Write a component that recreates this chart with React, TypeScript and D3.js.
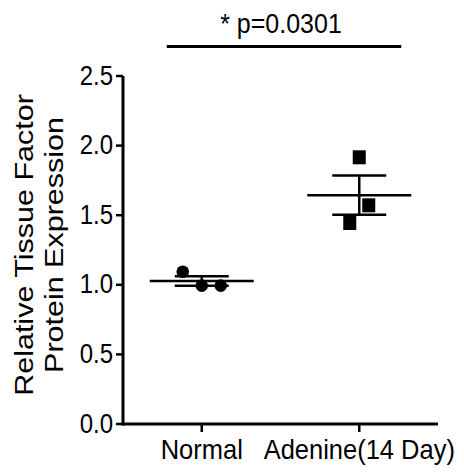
import React from "react";
import * as d3 from "d3";

// groups on the x axis
const groups = ["Normal", "Adenine(14 Day)"];
const normalValues = [1.094, 0.994, 0.994];
const adenineValues = [1.916, 1.571, 1.444];
// horizontal scatter of the points (in jitter units)
const normalJitter = [-1, 0, 1];
const adenineJitter = [0, 0.5, -0.5];
const yTicks = [0, 0.5, 1.0, 1.5, 2.0, 2.5];
const pLabel = "* p=0.0301";
const yLabelLines = ["Relative Tissue Factor", "Protein Expression"];

const width = 464;
const height = 472;
const font = "'Liberation Sans', Arial, Helvetica, sans-serif";

const App = () => {
  const x = d3.scalePoint<string>().domain(groups).range([123, 438]).padding(0.5);
  const y = d3.scaleLinear().domain([0, 2.5]).range([424, 76]);
  const jitter = d3.scaleLinear().domain([-1, 1]).range([-19, 19]);

  const series = [
    { group: groups[0], values: normalValues, jit: normalJitter, shape: "circle" },
    { group: groups[1], values: adenineValues, jit: adenineJitter, shape: "square" },
  ];

  const x0 = y.range()[0];
  const axisLeft = x.range()[0];
  const axisRight = x.range()[1];

  return (
    <svg width={width} height={height} style={{ position: "absolute", left: 0, top: 0 }}>
      <rect width={width} height={height} fill="#fff" />

      {/* significance bracket */}
      <text
        transform={`translate(281,33) scale(1,1.1)`}
        textAnchor="middle"
        fontFamily={font}
        fontSize={25}
        fill="#000"
      >
        {pLabel}
      </text>
      <line
        x1={x(groups[0])! - 35}
        x2={x(groups[1])! + 42}
        y1={46.5}
        y2={46.5}
        stroke="#000"
        strokeWidth={3}
      />

      {/* y axis */}
      <line x1={axisLeft} x2={axisLeft} y1={y(2.5)} y2={x0 + 1.5} stroke="#000" strokeWidth={3} />
      {yTicks.map((t) => (
        <g key={t}>
          <line x1={axisLeft - 7} x2={axisLeft} y1={y(t)} y2={y(t)} stroke="#000" strokeWidth={2.5} />
          <text
            transform={`translate(${axisLeft - 10},${y(t) + 8.5}) scale(1,1.15)`}
            textAnchor="end"
            fontFamily={font}
            fontSize={24}
            fill="#000"
          >
            {d3.format(".1f")(t)}
          </text>
        </g>
      ))}

      {/* x axis */}
      <line x1={axisLeft - 1.5} x2={axisRight} y1={x0} y2={x0} stroke="#000" strokeWidth={3} />
      {groups.map((g) => (
        <g key={g}>
          <line x1={x(g)} x2={x(g)} y1={x0} y2={x0 + 8} stroke="#000" strokeWidth={2.5} />
          <text
            transform={`translate(${x(g)},459) scale(1,1.07)`}
            textAnchor="middle"
            fontFamily={font}
            fontSize={25.5}
            fill="#000"
          >
            {g}
          </text>
        </g>
      ))}

      {/* y axis title */}
      {yLabelLines.map((line, i) => (
        <text
          key={line}
          transform={`translate(${33 + i * 30},245) scale(1,1.22) rotate(-90)`}
          textAnchor="middle"
          fontFamily={font}
          fontSize={25}
          fill="#000"
        >
          {line}
        </text>
      ))}

      {/* points, mean and SEM */}
      {series.map((s) => {
        const cx = x(s.group)!;
        const mean = d3.mean(s.values)!;
        const sem = d3.deviation(s.values)! / Math.sqrt(s.values.length);
        return (
          <g key={s.group}>
            {s.values.map((v, i) =>
              s.shape === "circle" ? (
                <circle key={i} cx={cx + jitter(s.jit[i])} cy={y(v)} r={6.3} fill="#000" />
              ) : (
                <rect
                  key={i}
                  x={cx + jitter(s.jit[i]) - 6.5}
                  y={y(v) - 7}
                  width={13}
                  height={14}
                  fill="#000"
                />
              )
            )}
            <line x1={cx - 52} x2={cx + 52} y1={y(mean)} y2={y(mean)} stroke="#000" strokeWidth={2.5} />
            <line x1={cx} x2={cx} y1={y(mean + sem)} y2={y(mean - sem)} stroke="#000" strokeWidth={2.5} />
            <line x1={cx - 27} x2={cx + 27} y1={y(mean + sem)} y2={y(mean + sem)} stroke="#000" strokeWidth={2.5} />
            <line x1={cx - 27} x2={cx + 27} y1={y(mean - sem)} y2={y(mean - sem)} stroke="#000" strokeWidth={2.5} />
          </g>
        );
      })}
    </svg>
  );
};

export default App;
